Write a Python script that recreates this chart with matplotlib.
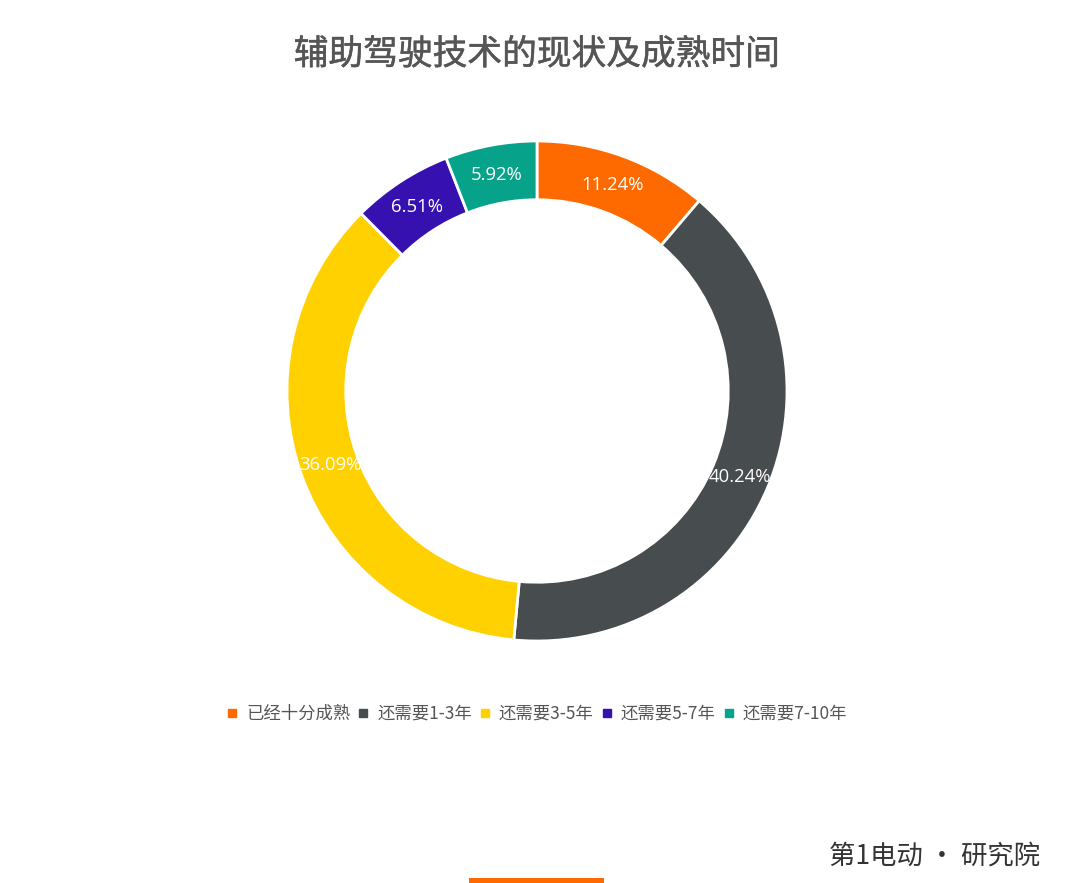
import matplotlib.pyplot as plt
import matplotlib.patheffects as pe
from matplotlib.patches import Rectangle
from matplotlib.lines import Line2D

plt.rcParams['font.family'] = ['Noto Sans CJK SC', 'DejaVu Sans']

# data
categories = ['已经十分成熟', '还需要1-3年', '还需要3-5年', '还需要5-7年', '还需要7-10年']
values = [11.24, 40.24, 36.09, 6.51, 5.92]
colors = ['#FF6A00', '#474C4F', '#FFD100', '#3611B0', '#06A38A']

fig = plt.figure(figsize=(10.8, 8.83), dpi=100)
fig.patch.set_facecolor('white')

# axes centered at (537, 391) px with radius 250 px
W, H = 1080, 883
r = 250
ax = fig.add_axes([(537 - r) / W, (H - 391 - r) / H, 2 * r / W, 2 * r / H])

wedges, texts = ax.pie(values, colors=colors, startangle=90, counterclock=False,
                       radius=1, labels=[f'{v:.2f}%' for v in values],
                       labeldistance=0.88,
                       wedgeprops=dict(width=0.235, edgecolor='white', linewidth=2),
                       textprops=dict(color='white', fontsize=13.3, ha='center', va='center',
                                      family=['Open Sans', 'DejaVu Sans']))
for t in texts:
    t.set_horizontalalignment('center')
ax.set_xlim(-1, 1)
ax.set_ylim(-1, 1)
ax.set_aspect('equal')
ax.axis('off')

# title: regular glyphs with a thin outline for a medium weight
fig.text(537 / W, 1 - 55 / H, '辅助驾驶技术的现状及成熟时间', ha='center', va='center',
         fontsize=25, color='#555555',
         path_effects=[pe.withStroke(linewidth=0.35, foreground='#555555')])

handles = [Line2D([], [], marker='s', linestyle='none', markersize=6,
                  markerfacecolor=c, markeredgecolor=c) for c in colors]
fig.legend(handles, categories, loc='center', bbox_to_anchor=(537 / W, 1 - 714 / H),
           ncol=5, frameon=False, fontsize=12.5, labelcolor='#555555',
           handlelength=0.6, handletextpad=0.5, columnspacing=0.45)

# footer logo text and orange bar
fig.text(1040 / W, 1 - 856 / H, '第1电动 • 研究院', ha='right', va='center',
         fontsize=19, color='#333333')
fig.patches.append(Rectangle((469 / W, 0), 135 / W, 5 / H, transform=fig.transFigure,
                             facecolor='#FF6A00', edgecolor='none'))

fig.savefig('out.png', dpi=100)
